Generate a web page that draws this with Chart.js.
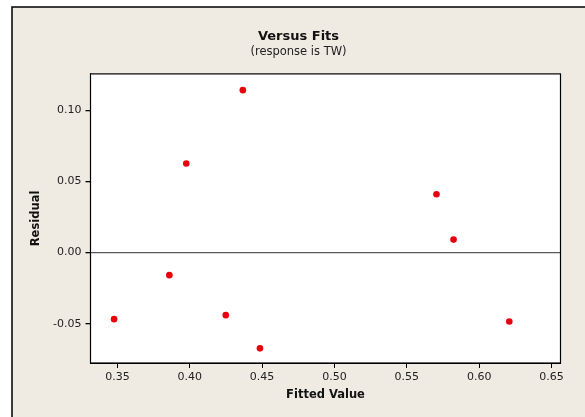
<!DOCTYPE html>
<html>
<head>
<meta charset="utf-8">
<script src="https://cdn.jsdelivr.net/npm/chart.js@4"></script>
<style>
  html, body { margin: 0; padding: 0; background: #fff; }
  #wrap { width: 585px; height: 417px; }
</style>
</head>
<body>
<div id="wrap"><canvas id="myChart"></canvas></div>
<script>
// values
const fitted   = [0.3477, 0.3859, 0.3976, 0.4249, 0.4367, 0.4485, 0.5705, 0.5823, 0.6208];
const residual = [-0.0468, -0.0159, 0.0626, -0.0440, 0.1141, -0.0673, 0.0409, 0.0091, -0.0484];
const xTicks = [0.35, 0.40, 0.45, 0.50, 0.55, 0.60, 0.65];
const yTicks = [-0.05, 0.00, 0.05, 0.10];

const points = fitted.map((f, i) => ({x: f, y: residual[i]}));

//minitab style frame: beige panel, white plot box
const framePlugin = {
    id: 'frame',
    beforeDraw(chart) {
        const c = chart.ctx;
        const a = chart.chartArea;
        c.save();
        c.fillStyle = '#ffffff';
        c.fillRect(0, 0, chart.width, chart.height);
        c.fillStyle = '#efebe2';
        c.fillRect(12, 7, chart.width - 12, chart.height - 7);
        c.strokeStyle = '#000';
        c.lineWidth = 1.5;
        c.beginPath();
        c.moveTo(12, chart.height);
        c.lineTo(12, 7);
        c.lineTo(chart.width, 7);
        c.stroke();
        c.fillStyle = '#ffffff';
        c.fillRect(a.left, a.top, a.right - a.left, a.bottom - a.top);
        c.restore();
    },
    afterDatasetsDraw(chart) {
        const c = chart.ctx;
        const a = chart.chartArea;
        c.save();
        c.strokeStyle = '#000';
        c.lineWidth = 1.2;
        c.strokeRect(a.left, a.top, a.right - a.left, a.bottom - a.top);
        c.restore();
    }
};

const ctx = document.getElementById('myChart');

new Chart(ctx, {
    type: 'scatter',
    data: {
        datasets: [{
            label: 'Residual',
            data: points,
            backgroundColor: '#e8000d',
            borderWidth: 0,
            pointRadius: 3.3,
            pointHoverRadius: 3.3
        }]
    },
    options: {
        responsive: true,
        maintainAspectRatio: false,
        animation: false,
        layout: { padding: { left: 12, right: 0, top: 0, bottom: 0 } },
        plugins: {
            legend: { display: false },
            tooltip: { enabled: false },
            title: {
                display: true,
                text: 'Versus Fits',
                color: '#111',
                font: { family: 'DejaVu Sans', size: 13, weight: 'bold' },
                padding: { top: 29, bottom: 0 }
            },
            subtitle: {
                display: true,
                text: '(response is TW)',
                color: '#222',
                font: { family: 'DejaVu Sans', size: 11.5 },
                padding: { top: 0.5, bottom: 15 }
            }
        },
        scales: {
            x: {
                type: 'linear',
                min: 0.3314,
                max: 0.6562,
                afterFit(s) { s.height = 54; },
                afterBuildTicks(s) { s.ticks = xTicks.map(v => ({value: v})); },
                grid: {
                    drawOnChartArea: false,
                    tickColor: '#000',
                    tickLength: 5
                },
                border: { color: '#000' },
                ticks: {
                    padding: 3,
                    color: '#222',
                    font: { family: 'DejaVu Sans', size: 11 },
                    callback: v => v.toFixed(2)
                },
                title: {
                    display: true,
                    text: 'Fitted Value',
                    color: '#111',
                    font: { family: 'DejaVu Sans', size: 11.5, weight: 'bold' },
                    padding: { top: 0, bottom: 14.6 }
                }
            },
            y: {
                type: 'linear',
                min: -0.0776,
                max: 0.1255,
                afterFit(s) { s.width = 78.5; },
                afterBuildTicks(s) { s.ticks = yTicks.map(v => ({value: v})); },
                grid: {
                    color: c => (c.tick && Math.abs(c.tick.value) < 1e-9) ? '#5a5a5a' : 'rgba(0,0,0,0)',
                    lineWidth: 1.3,
                    tickColor: '#000',
                    tickLength: 5
                },
                border: { color: '#000' },
                ticks: {
                    padding: 4,
                    color: '#222',
                    font: { family: 'DejaVu Sans', size: 11 },
                    callback: v => (Math.abs(v) < 1e-9 ? 0 : v).toFixed(2)
                },
                title: {
                    display: true,
                    text: 'Residual',
                    color: '#111',
                    font: { family: 'DejaVu Sans', size: 11.5, weight: 'bold' },
                    padding: { top: 17, bottom: 0 }
                }
            },
            // empty right axis, only keeps the gap on the right of the plot box
            yRight: {
                type: 'linear',
                position: 'right',
                display: true,
                afterFit(s) { s.width = 24.5; },
                grid: { display: false },
                border: { display: false },
                ticks: { display: false }
            }
        }
    },
    plugins: [framePlugin]
});
</script>
</body>
</html>
